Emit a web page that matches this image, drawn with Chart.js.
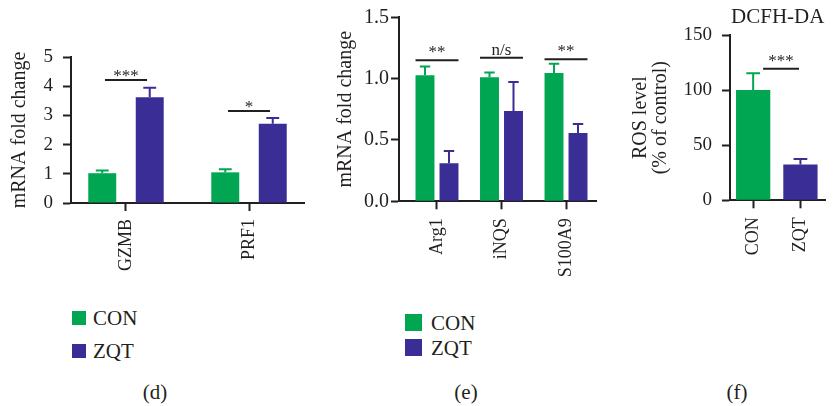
<!DOCTYPE html>
<html>
<head>
<meta charset="utf-8">
<script src="https://cdn.jsdelivr.net/npm/chart.js@4.4.1/dist/chart.umd.min.js"></script>
<style>
  html, body { margin: 0; padding: 0; background: #fff; }
  body { width: 833px; height: 406px; position: relative; overflow: hidden;
         font-family: 'Liberation Serif', 'Times New Roman', serif; color: #231f20; }
  canvas { position: absolute; }
  .sw { position: absolute; }
  .lt { position: absolute; font-size: 21px; white-space: nowrap; }
  .cap { position: absolute; font-size: 21px; line-height: 24px; transform: translateX(-50%); white-space: nowrap; }
</style>
</head>
<body>
<canvas id="cd" width="310" height="290" style="left:0px;top:0px"></canvas>
<canvas id="ce" width="290" height="290" style="left:320px;top:0px"></canvas>
<canvas id="cf" width="208" height="290" style="left:625px;top:0px"></canvas>
<div id="legends"></div>
<div class="cap" style="left:155px;top:380px">(d)</div>
<div class="cap" style="left:466px;top:380px">(e)</div>
<div class="cap" style="left:737px;top:380px">(f)</div>
<script>
// ---------------- data ----------------
const seriesNames = ['CON', 'ZQT'];
const seriesColors = ['#00a651', '#3a2d96'];

// panel (d)
const dCategories = ['GZMB', 'PRF1'];
const dCon = [1.02, 1.05];
const dConErr = [0.09, 0.11];
const dZqt = [3.62, 2.71];
const dZqtErr = [0.33, 0.20];
const dSigLabels = ['***', '*'];
const dSigLevels = [4.21, 3.15];
const dYTicks = [0, 1, 2, 3, 4, 5];

// panel (e)
const eCategories = ['Arg1', 'iNQS', 'S100A9'];
const eCon = [1.027, 1.011, 1.046];
const eConErr = [0.071, 0.038, 0.076];
const eZqt = [0.31, 0.736, 0.557];
const eZqtErr = [0.10, 0.237, 0.073];
const eSigLabels = ['**', 'n/s', '**'];
const eSigLevels = [1.149, 1.171, 1.158];
const eYTicks = [0, 0.5, 1.0, 1.5];

// panel (f)
const fCategories = ['CON', 'ZQT'];
const fValues = [100.1, 32.4];
const fErr = [15.1, 5.1];
const fSigLabels = ['***'];
const fSigLevels = [119.4];
const fYTicks = [0, 50, 100, 150];
const fTitle = 'DCFH-DA';

// ---------------- styling ----------------
const FONT = "'Liberation Serif', 'Times New Roman', serif";
const TXT = '#231f20';
const AXIS = '#231f20';

const errSigPlugin = {
  id: 'errsig',
  afterDatasetsDraw(chart, args, opts) {
    const ctx = chart.ctx;
    const ys = chart.scales.y, xs = chart.scales.x;
    chart.data.datasets.forEach((ds, di) => {
      const meta = chart.getDatasetMeta(di);
      meta.data.forEach((bar, i) => {
        const v = ds.data[i].y, e = ds.errors[i];
        const col = Array.isArray(ds.backgroundColor) ? ds.backgroundColor[i] : ds.backgroundColor;
        const top = ys.getPixelForValue(v + e);
        const base = ys.getPixelForValue(v);
        const cap = bar.width * opts.capRatio;
        ctx.save();
        ctx.strokeStyle = col;
        ctx.lineWidth = 2;
        ctx.beginPath();
        ctx.moveTo(bar.x, base);
        ctx.lineTo(bar.x, top);
        ctx.moveTo(bar.x - cap / 2, top);
        ctx.lineTo(bar.x + cap / 2, top);
        ctx.stroke();
        ctx.restore();
      });
    });
    (opts.sig || []).forEach(s => {
      const yy = ys.getPixelForValue(s.level);
      const x1 = xs.getPixelForValue(s.from), x2 = xs.getPixelForValue(s.to);
      ctx.save();
      ctx.strokeStyle = AXIS;
      ctx.lineWidth = 2;
      ctx.beginPath();
      ctx.moveTo(x1, yy);
      ctx.lineTo(x2, yy);
      ctx.stroke();
      ctx.fillStyle = TXT;
      ctx.font = '17px ' + FONT;
      ctx.textAlign = 'center';
      ctx.textBaseline = 'alphabetic';
      ctx.fillText(s.text, (x1 + x2) / 2, yy + opts.textOffset);
      ctx.restore();
    });
  }
};

function makePanel(id, p) {
  return new Chart(document.getElementById(id), {
    type: 'bar',
    data: { datasets: p.datasets },
    options: {
      responsive: false,
      animation: false,
      layout: { padding: p.pad },
      datasets: { bar: { categoryPercentage: p.catPct, barPercentage: p.barPct } },
      plugins: {
        legend: { display: false },
        tooltip: { enabled: false },
        title: p.title ? {
          display: true, text: p.title, fullSize: false, color: TXT,
          font: { family: FONT, size: 21, weight: 'normal', lineHeight: 1.2 },
          padding: p.titlePad
        } : { display: false },
        errsig: { capRatio: p.capRatio, sig: p.sig, textOffset: p.textOffset }
      },
      scales: {
        x: {
          type: 'linear', min: p.xMin, max: p.xMax, offset: false, bounds: 'data',
          afterBuildTicks: s => { s.ticks = p.categories.map((c, i) => ({ value: i })); },
          afterFit: s => { s.height = p.xHeight; },
          grid: { offset: false, drawOnChartArea: false, drawTicks: true, tickLength: 8, tickWidth: 2, tickColor: AXIS },
          border: { display: true, color: AXIS, width: 2 },
          ticks: {
            autoSkip: false, minRotation: 90, maxRotation: 90, padding: p.xPad, color: TXT,
            font: { family: FONT, size: 18 },
            callback: v => p.categories[v]
          }
        },
        y: {
          min: p.yMin, max: p.yMax,
          afterBuildTicks: s => { s.ticks = p.yTicks.map(v => ({ value: v })); },
          afterFit: s => { s.width = p.yWidth; },
          grid: { drawOnChartArea: false, drawTicks: true, tickLength: 8, tickWidth: 2, tickColor: AXIS },
          border: { display: true, color: AXIS, width: 2 },
          ticks: {
            padding: p.yPad, color: TXT, font: { family: FONT, size: p.yTickSize },
            callback: p.yFormat
          },
          title: {
            display: true, text: p.yTitle, color: TXT, padding: 0,
            font: { family: FONT, size: 20, lineHeight: p.yTitleLH }
          }
        }
      }
    },
    plugins: [errSigPlugin]
  });
}

function groupedSets(cats, con, conErr, zqt, zqtErr) {
  return [
    { label: seriesNames[0], data: cats.map((c, i) => ({ x: i, y: con[i] })), errors: conErr, backgroundColor: seriesColors[0] },
    { label: seriesNames[1], data: cats.map((c, i) => ({ x: i, y: zqt[i] })), errors: zqtErr, backgroundColor: seriesColors[1] }
  ];
}

// (d)
makePanel('cd', {
  categories: dCategories,
  datasets: groupedSets(dCategories, dCon, dConErr, dZqt, dZqtErr),
  pad: { left: 8, top: 57, right: 6, bottom: 0 },
  xMin: -0.447, xMax: 1.447, xHeight: 87, xPad: 8,
  yMin: 0, yMax: 5, yTicks: dYTicks, yWidth: 63, yPad: 10, yTickSize: 19,
  yFormat: v => String(v), yTitle: 'mRNA fold change', yTitleLH: 1.2,
  catPct: 0.772, barPct: 0.589, capRatio: 0.46,
  sig: dCategories.map((c, i) => ({ from: i - 0.171, to: i + 0.171, level: dSigLevels[i], text: dSigLabels[i] })),
  textOffset: 1
});

// (e)
makePanel('ce', {
  categories: eCategories,
  datasets: groupedSets(eCategories, eCon, eConErr, eZqt, eZqtErr),
  pad: { left: 13.7, top: 17.3, right: 14, bottom: 0 },
  xMin: -0.589, xMax: 2.465, xHeight: 88.7, xPad: 9,
  yMin: 0, yMax: 1.5, yTicks: eYTicks, yWidth: 65.3, yPad: 2, yTickSize: 20,
  yFormat: v => v.toFixed(1), yTitle: 'mRNA fold change', yTitleLH: 1.2,
  catPct: 0.744, barPct: 0.79, capRatio: 0.55,
  sig: eCategories.map((c, i) => ({ from: i - 0.333, to: i + 0.333, level: eSigLevels[i], text: eSigLabels[i] })),
  textOffset: -3
});

// (f)
makePanel('cf', {
  categories: fCategories,
  datasets: [{ label: fTitle, data: fCategories.map((c, i) => ({ x: i, y: fValues[i] })), errors: fErr, backgroundColor: seriesColors.slice() }],
  pad: { left: 5.7, top: 0, right: 0, bottom: 0 },
  title: fTitle, titlePad: { top: 4.4, bottom: 5.4 },
  xMin: -0.49, xMax: 1.53, xHeight: 89.7, xPad: 9,
  yMin: 0, yMax: 150, yTicks: fYTicks, yWidth: 99.3, yPad: 10, yTickSize: 19,
  yFormat: v => String(v), yTitle: ['ROS level', '(% of control)'], yTitleLH: 1.0,
  catPct: 1, barPct: 0.725, capRatio: 0.4,
  sig: [{ from: 0.21, to: 0.97, level: fSigLevels[0], text: fSigLabels[0] }],
  textOffset: -3
});

// legends (HTML, built from the series arrays)
const legendSpecs = [
  { x: 71.5, tops: [310.5, 344], size: 14, textX: 93 },
  { x: 405, tops: [314, 339], size: 17, textX: 431 }
];
const lg = document.getElementById('legends');
legendSpecs.forEach(L => {
  seriesNames.forEach((name, i) => {
    const sw = document.createElement('div');
    sw.className = 'sw';
    sw.style.cssText = `left:${L.x}px;top:${L.tops[i]}px;width:${L.size}px;height:${L.size}px;background:${seriesColors[i]}`;
    lg.appendChild(sw);
    const t = document.createElement('div');
    t.className = 'lt';
    t.textContent = name;
    t.style.cssText = `left:${L.textX}px;top:${L.tops[i] + L.size / 2 - 12}px;line-height:24px`;
    lg.appendChild(t);
  });
});
</script>
</body>
</html>
